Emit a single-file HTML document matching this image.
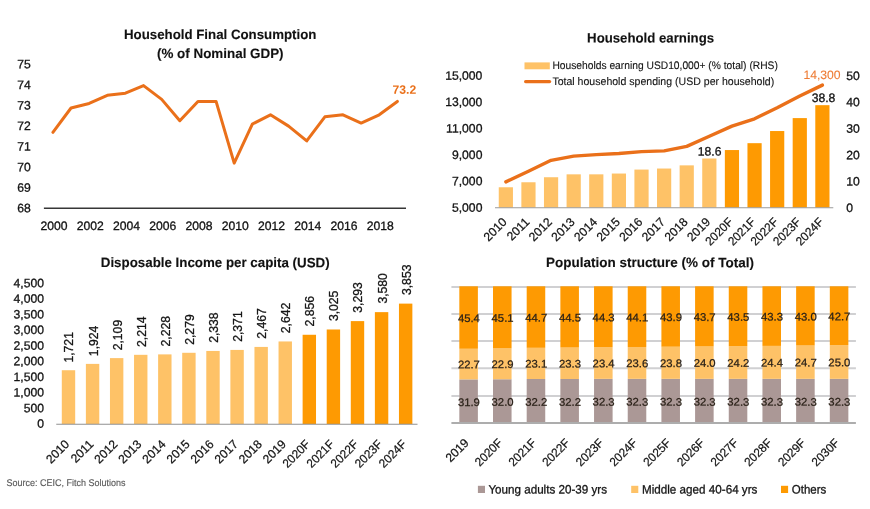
<!DOCTYPE html>
<html lang="en">
<head>
<meta charset="utf-8">
<title>Household consumption, earnings, income and population structure</title>
<style>
html, body { margin: 0; padding: 0; background: #ffffff; }
body { width: 870px; height: 509px; overflow: hidden; }
svg { display: block; font-family: "Liberation Sans", sans-serif; }
</style>
</head>
<body>
<svg width="870" height="509" viewBox="0 0 870 509">
<rect width="870" height="509" fill="#ffffff"/>
<g id="c1">
<text x="220.20" y="39.00" font-size="13.58" text-anchor="middle" font-weight="bold" transform="rotate(0.03 220.20 39.00)" textLength="192.40" lengthAdjust="spacingAndGlyphs" fill="#111" stroke="#111" stroke-width="0.12">Household Final Consumption</text>
<text x="220.30" y="58.00" font-size="13.58" text-anchor="middle" font-weight="bold" transform="rotate(0.03 220.30 58.00)" textLength="126.60" lengthAdjust="spacingAndGlyphs" fill="#111" stroke="#111" stroke-width="0.12">(% of Nominal GDP)</text>
<text x="30.70" y="212.35" font-size="12.16" text-anchor="end" transform="rotate(0.03 30.70 212.35)" fill="#141414" stroke="#141414" stroke-width="0.3">68</text>
<text x="30.70" y="191.78" font-size="12.16" text-anchor="end" transform="rotate(0.03 30.70 191.78)" fill="#141414" stroke="#141414" stroke-width="0.3">69</text>
<text x="30.70" y="171.21" font-size="12.16" text-anchor="end" transform="rotate(0.03 30.70 171.21)" fill="#141414" stroke="#141414" stroke-width="0.3">70</text>
<text x="30.70" y="150.64" font-size="12.16" text-anchor="end" transform="rotate(0.03 30.70 150.64)" fill="#141414" stroke="#141414" stroke-width="0.3">71</text>
<text x="30.70" y="130.07" font-size="12.16" text-anchor="end" transform="rotate(0.03 30.70 130.07)" fill="#141414" stroke="#141414" stroke-width="0.3">72</text>
<text x="30.70" y="109.50" font-size="12.16" text-anchor="end" transform="rotate(0.03 30.70 109.50)" fill="#141414" stroke="#141414" stroke-width="0.3">73</text>
<text x="30.70" y="88.92" font-size="12.16" text-anchor="end" transform="rotate(0.03 30.70 88.92)" fill="#141414" stroke="#141414" stroke-width="0.3">74</text>
<text x="30.70" y="68.35" font-size="12.16" text-anchor="end" transform="rotate(0.03 30.70 68.35)" fill="#141414" stroke="#141414" stroke-width="0.3">75</text>
<line x1="43.90" y1="208.30" x2="406.00" y2="208.30" stroke="#363636" stroke-width="1.4"/>
<text x="54.00" y="229.90" font-size="12.16" text-anchor="middle" transform="rotate(0.03 54.00 229.90)" fill="#141414" stroke="#141414" stroke-width="0.3">2000</text>
<text x="90.26" y="229.90" font-size="12.16" text-anchor="middle" transform="rotate(0.03 90.26 229.90)" fill="#141414" stroke="#141414" stroke-width="0.3">2002</text>
<text x="126.52" y="229.90" font-size="12.16" text-anchor="middle" transform="rotate(0.03 126.52 229.90)" fill="#141414" stroke="#141414" stroke-width="0.3">2004</text>
<text x="162.78" y="229.90" font-size="12.16" text-anchor="middle" transform="rotate(0.03 162.78 229.90)" fill="#141414" stroke="#141414" stroke-width="0.3">2006</text>
<text x="199.04" y="229.90" font-size="12.16" text-anchor="middle" transform="rotate(0.03 199.04 229.90)" fill="#141414" stroke="#141414" stroke-width="0.3">2008</text>
<text x="235.30" y="229.90" font-size="12.16" text-anchor="middle" transform="rotate(0.03 235.30 229.90)" fill="#141414" stroke="#141414" stroke-width="0.3">2010</text>
<text x="271.56" y="229.90" font-size="12.16" text-anchor="middle" transform="rotate(0.03 271.56 229.90)" fill="#141414" stroke="#141414" stroke-width="0.3">2012</text>
<text x="307.82" y="229.90" font-size="12.16" text-anchor="middle" transform="rotate(0.03 307.82 229.90)" fill="#141414" stroke="#141414" stroke-width="0.3">2014</text>
<text x="344.08" y="229.90" font-size="12.16" text-anchor="middle" transform="rotate(0.03 344.08 229.90)" fill="#141414" stroke="#141414" stroke-width="0.3">2016</text>
<text x="380.34" y="229.90" font-size="12.16" text-anchor="middle" transform="rotate(0.03 380.34 229.90)" fill="#141414" stroke="#141414" stroke-width="0.3">2018</text>
<polyline points="52.90,132.29 71.03,108.01 89.16,103.49 107.29,95.26 125.42,93.20 143.55,85.59 161.68,99.37 179.81,120.77 197.94,101.43 216.07,101.43 234.20,163.14 252.33,124.06 270.46,114.80 288.59,126.11 306.72,140.93 324.85,116.86 342.98,114.80 361.11,123.03 379.24,114.80 397.37,101.43" fill="none" stroke="#EA701A" stroke-width="3.0" stroke-linejoin="round" stroke-linecap="round"/>
<text x="404.40" y="93.75" font-size="12.16" text-anchor="middle" font-weight="bold" transform="rotate(0.03 404.40 93.75)" fill="#EA701A" stroke="#EA701A" stroke-width="0">73.2</text>
</g>
<g id="c2">
<text x="650.60" y="42.60" font-size="13.58" text-anchor="middle" font-weight="bold" transform="rotate(0.03 650.60 42.60)" textLength="127.00" lengthAdjust="spacingAndGlyphs" fill="#111" stroke="#111" stroke-width="0.12">Household earnings</text>
<rect x="524.50" y="62.40" width="25.30" height="6.90" fill="#FEC267"/>
<text x="552.40" y="68.92" font-size="10.94" transform="rotate(0.03 552.40 68.92)" textLength="225.50" lengthAdjust="spacingAndGlyphs" fill="#141414" stroke="#141414" stroke-width="0.12">Households earning USD10,000+ (% total) (RHS)</text>
<polyline points="525.60,81.60 549.60,81.60" fill="none" stroke="#EA701A" stroke-width="3.2" stroke-linejoin="round" stroke-linecap="round"/>
<text x="552.40" y="85.02" font-size="10.94" transform="rotate(0.03 552.40 85.02)" textLength="221.80" lengthAdjust="spacingAndGlyphs" fill="#141414" stroke="#141414" stroke-width="0.12">Total household spending (USD per household)</text>
<text x="482.40" y="211.75" font-size="12.16" text-anchor="end" transform="rotate(0.03 482.40 211.75)" fill="#141414" stroke="#141414" stroke-width="0.3">5,000</text>
<text x="482.40" y="185.35" font-size="12.16" text-anchor="end" transform="rotate(0.03 482.40 185.35)" fill="#141414" stroke="#141414" stroke-width="0.3">7,000</text>
<text x="482.40" y="158.95" font-size="12.16" text-anchor="end" transform="rotate(0.03 482.40 158.95)" fill="#141414" stroke="#141414" stroke-width="0.3">9,000</text>
<text x="482.40" y="132.55" font-size="12.16" text-anchor="end" transform="rotate(0.03 482.40 132.55)" fill="#141414" stroke="#141414" stroke-width="0.3">11,000</text>
<text x="482.40" y="106.15" font-size="12.16" text-anchor="end" transform="rotate(0.03 482.40 106.15)" fill="#141414" stroke="#141414" stroke-width="0.3">13,000</text>
<text x="482.40" y="79.75" font-size="12.16" text-anchor="end" transform="rotate(0.03 482.40 79.75)" fill="#141414" stroke="#141414" stroke-width="0.3">15,000</text>
<text x="846.30" y="211.95" font-size="12.16" transform="rotate(0.03 846.30 211.95)" fill="#141414" stroke="#141414" stroke-width="0.3">0</text>
<text x="846.30" y="185.55" font-size="12.16" transform="rotate(0.03 846.30 185.55)" fill="#141414" stroke="#141414" stroke-width="0.3">10</text>
<text x="846.30" y="159.15" font-size="12.16" transform="rotate(0.03 846.30 159.15)" fill="#141414" stroke="#141414" stroke-width="0.3">20</text>
<text x="846.30" y="132.75" font-size="12.16" transform="rotate(0.03 846.30 132.75)" fill="#141414" stroke="#141414" stroke-width="0.3">30</text>
<text x="846.30" y="106.35" font-size="12.16" transform="rotate(0.03 846.30 106.35)" fill="#141414" stroke="#141414" stroke-width="0.3">40</text>
<text x="846.30" y="79.95" font-size="12.16" transform="rotate(0.03 846.30 79.95)" fill="#141414" stroke="#141414" stroke-width="0.3">50</text>
<rect x="498.75" y="187.27" width="14.20" height="20.33" fill="#FEC267"/>
<rect x="521.36" y="182.26" width="14.20" height="25.34" fill="#FEC267"/>
<rect x="543.97" y="177.24" width="14.20" height="30.36" fill="#FEC267"/>
<rect x="566.58" y="174.34" width="14.20" height="33.26" fill="#FEC267"/>
<rect x="589.19" y="174.34" width="14.20" height="33.26" fill="#FEC267"/>
<rect x="611.80" y="173.54" width="14.20" height="34.06" fill="#FEC267"/>
<rect x="634.41" y="169.58" width="14.20" height="38.02" fill="#FEC267"/>
<rect x="657.02" y="168.53" width="14.20" height="39.07" fill="#FEC267"/>
<rect x="679.63" y="165.36" width="14.20" height="42.24" fill="#FEC267"/>
<rect x="702.24" y="158.50" width="14.20" height="49.10" fill="#FEC267"/>
<rect x="724.85" y="150.05" width="14.20" height="57.55" fill="#FE9A02"/>
<rect x="747.46" y="143.18" width="14.20" height="64.42" fill="#FE9A02"/>
<rect x="770.07" y="131.04" width="14.20" height="76.56" fill="#FE9A02"/>
<rect x="792.68" y="118.10" width="14.20" height="89.50" fill="#FE9A02"/>
<rect x="815.29" y="105.17" width="14.20" height="102.43" fill="#FE9A02"/>
<line x1="495.00" y1="207.80" x2="833.30" y2="207.80" stroke="#9a9a9a" stroke-width="1.1"/>
<polyline points="505.85,181.86 528.46,171.30 551.07,160.34 573.68,156.12 596.29,154.67 618.90,153.48 641.51,151.63 664.12,150.84 686.73,146.35 709.34,136.32 731.95,126.16 754.56,118.76 777.17,107.81 799.78,96.06 822.39,85.10" fill="none" stroke="#EA701A" stroke-width="3.4" stroke-linejoin="round" stroke-linecap="round"/>
<text x="507.65" y="222.80" font-size="12.16" text-anchor="end" transform="rotate(-45 507.65 222.80)" fill="#141414" stroke="#141414" stroke-width="0.22">2010</text>
<text x="530.26" y="222.80" font-size="12.16" text-anchor="end" transform="rotate(-45 530.26 222.80)" fill="#141414" stroke="#141414" stroke-width="0.22">2011</text>
<text x="552.87" y="222.80" font-size="12.16" text-anchor="end" transform="rotate(-45 552.87 222.80)" fill="#141414" stroke="#141414" stroke-width="0.22">2012</text>
<text x="575.48" y="222.80" font-size="12.16" text-anchor="end" transform="rotate(-45 575.48 222.80)" fill="#141414" stroke="#141414" stroke-width="0.22">2013</text>
<text x="598.09" y="222.80" font-size="12.16" text-anchor="end" transform="rotate(-45 598.09 222.80)" fill="#141414" stroke="#141414" stroke-width="0.22">2014</text>
<text x="620.70" y="222.80" font-size="12.16" text-anchor="end" transform="rotate(-45 620.70 222.80)" fill="#141414" stroke="#141414" stroke-width="0.22">2015</text>
<text x="643.31" y="222.80" font-size="12.16" text-anchor="end" transform="rotate(-45 643.31 222.80)" fill="#141414" stroke="#141414" stroke-width="0.22">2016</text>
<text x="665.92" y="222.80" font-size="12.16" text-anchor="end" transform="rotate(-45 665.92 222.80)" fill="#141414" stroke="#141414" stroke-width="0.22">2017</text>
<text x="688.53" y="222.80" font-size="12.16" text-anchor="end" transform="rotate(-45 688.53 222.80)" fill="#141414" stroke="#141414" stroke-width="0.22">2018</text>
<text x="711.14" y="222.80" font-size="12.16" text-anchor="end" transform="rotate(-45 711.14 222.80)" fill="#141414" stroke="#141414" stroke-width="0.22">2019</text>
<text x="733.75" y="222.80" font-size="12.16" text-anchor="end" transform="rotate(-45 733.75 222.80)" textLength="33.20" lengthAdjust="spacingAndGlyphs" fill="#141414" stroke="#141414" stroke-width="0.22">2020F</text>
<text x="756.36" y="222.80" font-size="12.16" text-anchor="end" transform="rotate(-45 756.36 222.80)" textLength="33.20" lengthAdjust="spacingAndGlyphs" fill="#141414" stroke="#141414" stroke-width="0.22">2021F</text>
<text x="778.97" y="222.80" font-size="12.16" text-anchor="end" transform="rotate(-45 778.97 222.80)" textLength="33.20" lengthAdjust="spacingAndGlyphs" fill="#141414" stroke="#141414" stroke-width="0.22">2022F</text>
<text x="801.58" y="222.80" font-size="12.16" text-anchor="end" transform="rotate(-45 801.58 222.80)" textLength="33.20" lengthAdjust="spacingAndGlyphs" fill="#141414" stroke="#141414" stroke-width="0.22">2023F</text>
<text x="824.19" y="222.80" font-size="12.16" text-anchor="end" transform="rotate(-45 824.19 222.80)" textLength="33.20" lengthAdjust="spacingAndGlyphs" fill="#141414" stroke="#141414" stroke-width="0.22">2024F</text>
<text x="822.00" y="79.05" font-size="12.16" text-anchor="middle" transform="rotate(0.03 822.00 79.05)" fill="#EE7D36" stroke="#EE7D36" stroke-width="0.1">14,300</text>
<text x="823.50" y="101.95" font-size="12.16" text-anchor="middle" transform="rotate(0.03 823.50 101.95)" fill="#141414" stroke="#141414" stroke-width="0.3">38.8</text>
<text x="709.60" y="155.55" font-size="12.16" text-anchor="middle" transform="rotate(0.03 709.60 155.55)" fill="#141414" stroke="#141414" stroke-width="0.3">18.6</text>
</g>
<g id="c3">
<text x="215.20" y="267.10" font-size="13.58" text-anchor="middle" font-weight="bold" transform="rotate(0.03 215.20 267.10)" textLength="228.80" lengthAdjust="spacingAndGlyphs" fill="#111" stroke="#111" stroke-width="0.12">Disposable Income per capita (USD)</text>
<text x="44.00" y="427.85" font-size="12.16" text-anchor="end" transform="rotate(0.03 44.00 427.85)" fill="#141414" stroke="#141414" stroke-width="0.3">0</text>
<text x="44.00" y="412.23" font-size="12.16" text-anchor="end" transform="rotate(0.03 44.00 412.23)" fill="#141414" stroke="#141414" stroke-width="0.3">500</text>
<text x="44.00" y="396.61" font-size="12.16" text-anchor="end" transform="rotate(0.03 44.00 396.61)" fill="#141414" stroke="#141414" stroke-width="0.3">1,000</text>
<text x="44.00" y="380.99" font-size="12.16" text-anchor="end" transform="rotate(0.03 44.00 380.99)" fill="#141414" stroke="#141414" stroke-width="0.3">1,500</text>
<text x="44.00" y="365.36" font-size="12.16" text-anchor="end" transform="rotate(0.03 44.00 365.36)" fill="#141414" stroke="#141414" stroke-width="0.3">2,000</text>
<text x="44.00" y="349.74" font-size="12.16" text-anchor="end" transform="rotate(0.03 44.00 349.74)" fill="#141414" stroke="#141414" stroke-width="0.3">2,500</text>
<text x="44.00" y="334.12" font-size="12.16" text-anchor="end" transform="rotate(0.03 44.00 334.12)" fill="#141414" stroke="#141414" stroke-width="0.3">3,000</text>
<text x="44.00" y="318.50" font-size="12.16" text-anchor="end" transform="rotate(0.03 44.00 318.50)" fill="#141414" stroke="#141414" stroke-width="0.3">3,500</text>
<text x="44.00" y="302.87" font-size="12.16" text-anchor="end" transform="rotate(0.03 44.00 302.87)" fill="#141414" stroke="#141414" stroke-width="0.3">4,000</text>
<text x="44.00" y="287.25" font-size="12.16" text-anchor="end" transform="rotate(0.03 44.00 287.25)" fill="#141414" stroke="#141414" stroke-width="0.3">4,500</text>
<rect x="61.79" y="370.23" width="13.40" height="53.77" fill="#FEC267"/>
<text x="73.44" y="362.53" font-size="12.16" transform="rotate(-90 73.44 362.53)" fill="#141414" stroke="#141414" stroke-width="0.3">1,721</text>
<text x="70.09" y="445.00" font-size="12.16" text-anchor="end" transform="rotate(-45 70.09 445.00)" fill="#141414" stroke="#141414" stroke-width="0.22">2010</text>
<rect x="85.88" y="363.89" width="13.40" height="60.11" fill="#FEC267"/>
<text x="97.53" y="356.12" font-size="12.16" transform="rotate(-90 97.53 356.12)" fill="#141414" stroke="#141414" stroke-width="0.3">1,924</text>
<text x="94.17" y="445.00" font-size="12.16" text-anchor="end" transform="rotate(-45 94.17 445.00)" fill="#141414" stroke="#141414" stroke-width="0.22">2011</text>
<rect x="109.96" y="358.11" width="13.40" height="65.89" fill="#FEC267"/>
<text x="121.61" y="350.28" font-size="12.16" transform="rotate(-90 121.61 350.28)" fill="#141414" stroke="#141414" stroke-width="0.3">2,109</text>
<text x="118.26" y="445.00" font-size="12.16" text-anchor="end" transform="rotate(-45 118.26 445.00)" fill="#141414" stroke="#141414" stroke-width="0.22">2012</text>
<rect x="134.04" y="354.82" width="13.40" height="69.18" fill="#FEC267"/>
<text x="145.69" y="346.93" font-size="12.16" transform="rotate(-90 145.69 346.93)" fill="#141414" stroke="#141414" stroke-width="0.3">2,214</text>
<text x="142.34" y="445.00" font-size="12.16" text-anchor="end" transform="rotate(-45 142.34 445.00)" fill="#141414" stroke="#141414" stroke-width="0.22">2013</text>
<rect x="158.12" y="354.39" width="13.40" height="69.61" fill="#FEC267"/>
<text x="169.78" y="346.43" font-size="12.16" transform="rotate(-90 169.78 346.43)" fill="#141414" stroke="#141414" stroke-width="0.3">2,228</text>
<text x="166.42" y="445.00" font-size="12.16" text-anchor="end" transform="rotate(-45 166.42 445.00)" fill="#141414" stroke="#141414" stroke-width="0.22">2014</text>
<rect x="182.21" y="352.79" width="13.40" height="71.21" fill="#FEC267"/>
<text x="193.86" y="344.77" font-size="12.16" transform="rotate(-90 193.86 344.77)" fill="#141414" stroke="#141414" stroke-width="0.3">2,279</text>
<text x="190.51" y="445.00" font-size="12.16" text-anchor="end" transform="rotate(-45 190.51 445.00)" fill="#141414" stroke="#141414" stroke-width="0.22">2015</text>
<rect x="206.29" y="350.95" width="13.40" height="73.05" fill="#FEC267"/>
<text x="217.94" y="342.86" font-size="12.16" transform="rotate(-90 217.94 342.86)" fill="#141414" stroke="#141414" stroke-width="0.3">2,338</text>
<text x="214.59" y="445.00" font-size="12.16" text-anchor="end" transform="rotate(-45 214.59 445.00)" fill="#141414" stroke="#141414" stroke-width="0.22">2016</text>
<rect x="230.38" y="349.92" width="13.40" height="74.08" fill="#FEC267"/>
<text x="242.03" y="341.77" font-size="12.16" transform="rotate(-90 242.03 341.77)" fill="#141414" stroke="#141414" stroke-width="0.3">2,371</text>
<text x="238.67" y="445.00" font-size="12.16" text-anchor="end" transform="rotate(-45 238.67 445.00)" fill="#141414" stroke="#141414" stroke-width="0.22">2017</text>
<rect x="254.46" y="346.92" width="13.40" height="77.08" fill="#FEC267"/>
<text x="266.11" y="338.71" font-size="12.16" transform="rotate(-90 266.11 338.71)" fill="#141414" stroke="#141414" stroke-width="0.3">2,467</text>
<text x="262.76" y="445.00" font-size="12.16" text-anchor="end" transform="rotate(-45 262.76 445.00)" fill="#141414" stroke="#141414" stroke-width="0.22">2018</text>
<rect x="278.54" y="341.45" width="13.40" height="82.55" fill="#FEC267"/>
<text x="290.19" y="333.17" font-size="12.16" transform="rotate(-90 290.19 333.17)" fill="#141414" stroke="#141414" stroke-width="0.3">2,642</text>
<text x="286.84" y="445.00" font-size="12.16" text-anchor="end" transform="rotate(-45 286.84 445.00)" fill="#141414" stroke="#141414" stroke-width="0.22">2019</text>
<rect x="302.62" y="334.77" width="13.40" height="89.23" fill="#FE9A02"/>
<text x="314.28" y="326.42" font-size="12.16" transform="rotate(-90 314.28 326.42)" fill="#141414" stroke="#141414" stroke-width="0.3">2,856</text>
<text x="310.93" y="445.00" font-size="12.16" text-anchor="end" transform="rotate(-45 310.93 445.00)" textLength="33.20" lengthAdjust="spacingAndGlyphs" fill="#141414" stroke="#141414" stroke-width="0.22">2020F</text>
<rect x="326.71" y="329.49" width="13.40" height="94.51" fill="#FE9A02"/>
<text x="338.36" y="321.08" font-size="12.16" transform="rotate(-90 338.36 321.08)" fill="#141414" stroke="#141414" stroke-width="0.3">3,025</text>
<text x="335.01" y="445.00" font-size="12.16" text-anchor="end" transform="rotate(-45 335.01 445.00)" textLength="33.20" lengthAdjust="spacingAndGlyphs" fill="#141414" stroke="#141414" stroke-width="0.22">2021F</text>
<rect x="350.79" y="321.11" width="13.40" height="102.89" fill="#FE9A02"/>
<text x="362.44" y="312.64" font-size="12.16" transform="rotate(-90 362.44 312.64)" fill="#141414" stroke="#141414" stroke-width="0.3">3,293</text>
<text x="359.09" y="445.00" font-size="12.16" text-anchor="end" transform="rotate(-45 359.09 445.00)" textLength="33.20" lengthAdjust="spacingAndGlyphs" fill="#141414" stroke="#141414" stroke-width="0.22">2022F</text>
<rect x="374.88" y="312.14" width="13.40" height="111.86" fill="#FE9A02"/>
<text x="386.53" y="303.61" font-size="12.16" transform="rotate(-90 386.53 303.61)" fill="#141414" stroke="#141414" stroke-width="0.3">3,580</text>
<text x="383.18" y="445.00" font-size="12.16" text-anchor="end" transform="rotate(-45 383.18 445.00)" textLength="33.20" lengthAdjust="spacingAndGlyphs" fill="#141414" stroke="#141414" stroke-width="0.22">2023F</text>
<rect x="398.96" y="303.62" width="13.40" height="120.38" fill="#FE9A02"/>
<text x="410.61" y="295.02" font-size="12.16" transform="rotate(-90 410.61 295.02)" fill="#141414" stroke="#141414" stroke-width="0.3">3,853</text>
<text x="407.26" y="445.00" font-size="12.16" text-anchor="end" transform="rotate(-45 407.26 445.00)" textLength="33.20" lengthAdjust="spacingAndGlyphs" fill="#141414" stroke="#141414" stroke-width="0.22">2024F</text>
<line x1="56.25" y1="424.20" x2="417.50" y2="424.20" stroke="#909090" stroke-width="1.1"/>
<text x="6.60" y="486.28" font-size="9.73" transform="rotate(0.03 6.60 486.28)" textLength="118.80" lengthAdjust="spacingAndGlyphs" fill="#5c5c5c" stroke="#5c5c5c" stroke-width="0.15">Source: CEIC, Fitch Solutions</text>
</g>
<g id="c4">
<text x="650.00" y="267.10" font-size="13.58" text-anchor="middle" font-weight="bold" transform="rotate(0.03 650.00 267.10)" textLength="207.80" lengthAdjust="spacingAndGlyphs" fill="#111" stroke="#111" stroke-width="0.12">Population structure (% of Total)</text>
<line x1="451.40" y1="396.00" x2="855.90" y2="396.00" stroke="#D0D0D2" stroke-width="1.9"/>
<line x1="451.40" y1="368.20" x2="855.90" y2="368.20" stroke="#D0D0D2" stroke-width="1.9"/>
<line x1="451.40" y1="341.00" x2="855.90" y2="341.00" stroke="#D0D0D2" stroke-width="1.9"/>
<line x1="451.40" y1="314.00" x2="855.90" y2="314.00" stroke="#D0D0D2" stroke-width="1.9"/>
<line x1="451.40" y1="287.00" x2="855.90" y2="287.00" stroke="#D0D0D2" stroke-width="1.9"/>
<rect x="459.33" y="379.39" width="18.55" height="43.61" fill="#AB9896"/>
<rect x="459.33" y="348.76" width="18.55" height="30.63" fill="#FEC267"/>
<rect x="459.33" y="286.30" width="18.55" height="62.46" fill="#FE9A02"/>
<rect x="493.01" y="379.26" width="18.55" height="43.74" fill="#AB9896"/>
<rect x="493.01" y="348.35" width="18.55" height="30.90" fill="#FEC267"/>
<rect x="493.01" y="286.30" width="18.55" height="62.05" fill="#FE9A02"/>
<rect x="526.69" y="378.98" width="18.55" height="44.02" fill="#AB9896"/>
<rect x="526.69" y="347.80" width="18.55" height="31.18" fill="#FEC267"/>
<rect x="526.69" y="286.30" width="18.55" height="61.50" fill="#FE9A02"/>
<rect x="560.37" y="378.98" width="18.55" height="44.02" fill="#AB9896"/>
<rect x="560.37" y="347.53" width="18.55" height="31.45" fill="#FEC267"/>
<rect x="560.37" y="286.30" width="18.55" height="61.23" fill="#FE9A02"/>
<rect x="594.05" y="378.85" width="18.55" height="44.15" fill="#AB9896"/>
<rect x="594.05" y="347.26" width="18.55" height="31.59" fill="#FEC267"/>
<rect x="594.05" y="286.30" width="18.55" height="60.96" fill="#FE9A02"/>
<rect x="627.73" y="378.85" width="18.55" height="44.15" fill="#AB9896"/>
<rect x="627.73" y="346.98" width="18.55" height="31.86" fill="#FEC267"/>
<rect x="627.73" y="286.30" width="18.55" height="60.68" fill="#FE9A02"/>
<rect x="661.41" y="378.85" width="18.55" height="44.15" fill="#AB9896"/>
<rect x="661.41" y="346.71" width="18.55" height="32.13" fill="#FEC267"/>
<rect x="661.41" y="286.30" width="18.55" height="60.41" fill="#FE9A02"/>
<rect x="695.09" y="378.85" width="18.55" height="44.15" fill="#AB9896"/>
<rect x="695.09" y="346.44" width="18.55" height="32.41" fill="#FEC267"/>
<rect x="695.09" y="286.30" width="18.55" height="60.14" fill="#FE9A02"/>
<rect x="728.76" y="378.85" width="18.55" height="44.15" fill="#AB9896"/>
<rect x="728.76" y="346.16" width="18.55" height="32.68" fill="#FEC267"/>
<rect x="728.76" y="286.30" width="18.55" height="59.86" fill="#FE9A02"/>
<rect x="762.45" y="378.85" width="18.55" height="44.15" fill="#AB9896"/>
<rect x="762.45" y="345.89" width="18.55" height="32.95" fill="#FEC267"/>
<rect x="762.45" y="286.30" width="18.55" height="59.59" fill="#FE9A02"/>
<rect x="796.13" y="378.85" width="18.55" height="44.15" fill="#AB9896"/>
<rect x="796.13" y="345.48" width="18.55" height="33.36" fill="#FEC267"/>
<rect x="796.13" y="286.30" width="18.55" height="59.18" fill="#FE9A02"/>
<rect x="829.81" y="378.85" width="18.55" height="44.15" fill="#AB9896"/>
<rect x="829.81" y="345.07" width="18.55" height="33.77" fill="#FEC267"/>
<rect x="829.81" y="286.30" width="18.55" height="58.77" fill="#FE9A02"/>
<line x1="451.40" y1="423.00" x2="855.90" y2="423.00" stroke="#ADADAD" stroke-width="1.8"/>
<text x="468.90" y="405.91" font-size="10.94" text-anchor="middle" transform="rotate(0.03 468.90 405.91)" textLength="22.00" lengthAdjust="spacingAndGlyphs" fill="#2a2118" stroke="#2a2118" stroke-width="0.25">31.9</text>
<text x="468.90" y="368.30" font-size="10.94" text-anchor="middle" transform="rotate(0.03 468.90 368.30)" textLength="22.00" lengthAdjust="spacingAndGlyphs" fill="#2a2118" stroke="#2a2118" stroke-width="0.25">22.7</text>
<text x="468.90" y="322.05" font-size="10.94" text-anchor="middle" transform="rotate(0.03 468.90 322.05)" textLength="22.00" lengthAdjust="spacingAndGlyphs" fill="#2a2118" stroke="#2a2118" stroke-width="0.25">45.4</text>
<text x="469.60" y="443.60" font-size="12.16" text-anchor="end" transform="rotate(-45 469.60 443.60)" fill="#141414" stroke="#141414" stroke-width="0.22">2019</text>
<text x="502.58" y="405.85" font-size="10.94" text-anchor="middle" transform="rotate(0.03 502.58 405.85)" textLength="22.00" lengthAdjust="spacingAndGlyphs" fill="#2a2118" stroke="#2a2118" stroke-width="0.25">32.0</text>
<text x="502.58" y="368.02" font-size="10.94" text-anchor="middle" transform="rotate(0.03 502.58 368.02)" textLength="22.00" lengthAdjust="spacingAndGlyphs" fill="#2a2118" stroke="#2a2118" stroke-width="0.25">22.9</text>
<text x="502.58" y="321.84" font-size="10.94" text-anchor="middle" transform="rotate(0.03 502.58 321.84)" textLength="22.00" lengthAdjust="spacingAndGlyphs" fill="#2a2118" stroke="#2a2118" stroke-width="0.25">45.1</text>
<text x="503.28" y="443.60" font-size="12.16" text-anchor="end" transform="rotate(-45 503.28 443.60)" textLength="33.20" lengthAdjust="spacingAndGlyphs" fill="#141414" stroke="#141414" stroke-width="0.22">2020F</text>
<text x="536.26" y="405.71" font-size="10.94" text-anchor="middle" transform="rotate(0.03 536.26 405.71)" textLength="22.00" lengthAdjust="spacingAndGlyphs" fill="#2a2118" stroke="#2a2118" stroke-width="0.25">32.2</text>
<text x="536.26" y="367.61" font-size="10.94" text-anchor="middle" transform="rotate(0.03 536.26 367.61)" textLength="22.00" lengthAdjust="spacingAndGlyphs" fill="#2a2118" stroke="#2a2118" stroke-width="0.25">23.1</text>
<text x="536.26" y="321.57" font-size="10.94" text-anchor="middle" transform="rotate(0.03 536.26 321.57)" textLength="22.00" lengthAdjust="spacingAndGlyphs" fill="#2a2118" stroke="#2a2118" stroke-width="0.25">44.7</text>
<text x="536.96" y="443.60" font-size="12.16" text-anchor="end" transform="rotate(-45 536.96 443.60)" textLength="33.20" lengthAdjust="spacingAndGlyphs" fill="#141414" stroke="#141414" stroke-width="0.22">2021F</text>
<text x="569.94" y="405.71" font-size="10.94" text-anchor="middle" transform="rotate(0.03 569.94 405.71)" textLength="22.00" lengthAdjust="spacingAndGlyphs" fill="#2a2118" stroke="#2a2118" stroke-width="0.25">32.2</text>
<text x="569.94" y="367.48" font-size="10.94" text-anchor="middle" transform="rotate(0.03 569.94 367.48)" textLength="22.00" lengthAdjust="spacingAndGlyphs" fill="#2a2118" stroke="#2a2118" stroke-width="0.25">23.3</text>
<text x="569.94" y="321.43" font-size="10.94" text-anchor="middle" transform="rotate(0.03 569.94 321.43)" textLength="22.00" lengthAdjust="spacingAndGlyphs" fill="#2a2118" stroke="#2a2118" stroke-width="0.25">44.5</text>
<text x="570.64" y="443.60" font-size="12.16" text-anchor="end" transform="rotate(-45 570.64 443.60)" textLength="33.20" lengthAdjust="spacingAndGlyphs" fill="#141414" stroke="#141414" stroke-width="0.22">2022F</text>
<text x="603.62" y="405.64" font-size="10.94" text-anchor="middle" transform="rotate(0.03 603.62 405.64)" textLength="22.00" lengthAdjust="spacingAndGlyphs" fill="#2a2118" stroke="#2a2118" stroke-width="0.25">32.3</text>
<text x="603.62" y="367.27" font-size="10.94" text-anchor="middle" transform="rotate(0.03 603.62 367.27)" textLength="22.00" lengthAdjust="spacingAndGlyphs" fill="#2a2118" stroke="#2a2118" stroke-width="0.25">23.4</text>
<text x="603.62" y="321.30" font-size="10.94" text-anchor="middle" transform="rotate(0.03 603.62 321.30)" textLength="22.00" lengthAdjust="spacingAndGlyphs" fill="#2a2118" stroke="#2a2118" stroke-width="0.25">44.3</text>
<text x="604.32" y="443.60" font-size="12.16" text-anchor="end" transform="rotate(-45 604.32 443.60)" textLength="33.20" lengthAdjust="spacingAndGlyphs" fill="#141414" stroke="#141414" stroke-width="0.22">2023F</text>
<text x="637.30" y="405.64" font-size="10.94" text-anchor="middle" transform="rotate(0.03 637.30 405.64)" textLength="22.00" lengthAdjust="spacingAndGlyphs" fill="#2a2118" stroke="#2a2118" stroke-width="0.25">32.3</text>
<text x="637.30" y="367.13" font-size="10.94" text-anchor="middle" transform="rotate(0.03 637.30 367.13)" textLength="22.00" lengthAdjust="spacingAndGlyphs" fill="#2a2118" stroke="#2a2118" stroke-width="0.25">23.6</text>
<text x="637.30" y="321.16" font-size="10.94" text-anchor="middle" transform="rotate(0.03 637.30 321.16)" textLength="22.00" lengthAdjust="spacingAndGlyphs" fill="#2a2118" stroke="#2a2118" stroke-width="0.25">44.1</text>
<text x="638.00" y="443.60" font-size="12.16" text-anchor="end" transform="rotate(-45 638.00 443.60)" textLength="33.20" lengthAdjust="spacingAndGlyphs" fill="#141414" stroke="#141414" stroke-width="0.22">2024F</text>
<text x="670.98" y="405.64" font-size="10.94" text-anchor="middle" transform="rotate(0.03 670.98 405.64)" textLength="22.00" lengthAdjust="spacingAndGlyphs" fill="#2a2118" stroke="#2a2118" stroke-width="0.25">32.3</text>
<text x="670.98" y="367.00" font-size="10.94" text-anchor="middle" transform="rotate(0.03 670.98 367.00)" textLength="22.00" lengthAdjust="spacingAndGlyphs" fill="#2a2118" stroke="#2a2118" stroke-width="0.25">23.8</text>
<text x="670.98" y="321.02" font-size="10.94" text-anchor="middle" transform="rotate(0.03 670.98 321.02)" textLength="22.00" lengthAdjust="spacingAndGlyphs" fill="#2a2118" stroke="#2a2118" stroke-width="0.25">43.9</text>
<text x="671.68" y="443.60" font-size="12.16" text-anchor="end" transform="rotate(-45 671.68 443.60)" textLength="33.20" lengthAdjust="spacingAndGlyphs" fill="#141414" stroke="#141414" stroke-width="0.22">2025F</text>
<text x="704.66" y="405.64" font-size="10.94" text-anchor="middle" transform="rotate(0.03 704.66 405.64)" textLength="22.00" lengthAdjust="spacingAndGlyphs" fill="#2a2118" stroke="#2a2118" stroke-width="0.25">32.3</text>
<text x="704.66" y="366.86" font-size="10.94" text-anchor="middle" transform="rotate(0.03 704.66 366.86)" textLength="22.00" lengthAdjust="spacingAndGlyphs" fill="#2a2118" stroke="#2a2118" stroke-width="0.25">24.0</text>
<text x="704.66" y="320.89" font-size="10.94" text-anchor="middle" transform="rotate(0.03 704.66 320.89)" textLength="22.00" lengthAdjust="spacingAndGlyphs" fill="#2a2118" stroke="#2a2118" stroke-width="0.25">43.7</text>
<text x="705.36" y="443.60" font-size="12.16" text-anchor="end" transform="rotate(-45 705.36 443.60)" textLength="33.20" lengthAdjust="spacingAndGlyphs" fill="#141414" stroke="#141414" stroke-width="0.22">2026F</text>
<text x="738.34" y="405.64" font-size="10.94" text-anchor="middle" transform="rotate(0.03 738.34 405.64)" textLength="22.00" lengthAdjust="spacingAndGlyphs" fill="#2a2118" stroke="#2a2118" stroke-width="0.25">32.3</text>
<text x="738.34" y="366.72" font-size="10.94" text-anchor="middle" transform="rotate(0.03 738.34 366.72)" textLength="22.00" lengthAdjust="spacingAndGlyphs" fill="#2a2118" stroke="#2a2118" stroke-width="0.25">24.2</text>
<text x="738.34" y="320.75" font-size="10.94" text-anchor="middle" transform="rotate(0.03 738.34 320.75)" textLength="22.00" lengthAdjust="spacingAndGlyphs" fill="#2a2118" stroke="#2a2118" stroke-width="0.25">43.5</text>
<text x="739.04" y="443.60" font-size="12.16" text-anchor="end" transform="rotate(-45 739.04 443.60)" textLength="33.20" lengthAdjust="spacingAndGlyphs" fill="#141414" stroke="#141414" stroke-width="0.22">2027F</text>
<text x="772.02" y="405.64" font-size="10.94" text-anchor="middle" transform="rotate(0.03 772.02 405.64)" textLength="22.00" lengthAdjust="spacingAndGlyphs" fill="#2a2118" stroke="#2a2118" stroke-width="0.25">32.3</text>
<text x="772.02" y="366.59" font-size="10.94" text-anchor="middle" transform="rotate(0.03 772.02 366.59)" textLength="22.00" lengthAdjust="spacingAndGlyphs" fill="#2a2118" stroke="#2a2118" stroke-width="0.25">24.4</text>
<text x="772.02" y="320.61" font-size="10.94" text-anchor="middle" transform="rotate(0.03 772.02 320.61)" textLength="22.00" lengthAdjust="spacingAndGlyphs" fill="#2a2118" stroke="#2a2118" stroke-width="0.25">43.3</text>
<text x="772.72" y="443.60" font-size="12.16" text-anchor="end" transform="rotate(-45 772.72 443.60)" textLength="33.20" lengthAdjust="spacingAndGlyphs" fill="#141414" stroke="#141414" stroke-width="0.22">2028F</text>
<text x="805.70" y="405.64" font-size="10.94" text-anchor="middle" transform="rotate(0.03 805.70 405.64)" textLength="22.00" lengthAdjust="spacingAndGlyphs" fill="#2a2118" stroke="#2a2118" stroke-width="0.25">32.3</text>
<text x="805.70" y="366.38" font-size="10.94" text-anchor="middle" transform="rotate(0.03 805.70 366.38)" textLength="22.00" lengthAdjust="spacingAndGlyphs" fill="#2a2118" stroke="#2a2118" stroke-width="0.25">24.7</text>
<text x="805.70" y="320.41" font-size="10.94" text-anchor="middle" transform="rotate(0.03 805.70 320.41)" textLength="22.00" lengthAdjust="spacingAndGlyphs" fill="#2a2118" stroke="#2a2118" stroke-width="0.25">43.0</text>
<text x="806.40" y="443.60" font-size="12.16" text-anchor="end" transform="rotate(-45 806.40 443.60)" textLength="33.20" lengthAdjust="spacingAndGlyphs" fill="#141414" stroke="#141414" stroke-width="0.22">2029F</text>
<text x="839.38" y="405.64" font-size="10.94" text-anchor="middle" transform="rotate(0.03 839.38 405.64)" textLength="22.00" lengthAdjust="spacingAndGlyphs" fill="#2a2118" stroke="#2a2118" stroke-width="0.25">32.3</text>
<text x="839.38" y="366.18" font-size="10.94" text-anchor="middle" transform="rotate(0.03 839.38 366.18)" textLength="22.00" lengthAdjust="spacingAndGlyphs" fill="#2a2118" stroke="#2a2118" stroke-width="0.25">25.0</text>
<text x="839.38" y="320.20" font-size="10.94" text-anchor="middle" transform="rotate(0.03 839.38 320.20)" textLength="22.00" lengthAdjust="spacingAndGlyphs" fill="#2a2118" stroke="#2a2118" stroke-width="0.25">42.7</text>
<text x="840.08" y="443.60" font-size="12.16" text-anchor="end" transform="rotate(-45 840.08 443.60)" textLength="33.20" lengthAdjust="spacingAndGlyphs" fill="#141414" stroke="#141414" stroke-width="0.22">2030F</text>
<rect x="477.90" y="485.80" width="7.10" height="7.20" fill="#AB9896"/>
<text x="488.40" y="493.55" font-size="12.16" transform="rotate(0.03 488.40 493.55)" textLength="118.60" lengthAdjust="spacingAndGlyphs" fill="#141414" stroke="#141414" stroke-width="0.3">Young adults 20-39 yrs</text>
<rect x="631.20" y="485.80" width="7.10" height="7.20" fill="#FEC267"/>
<text x="642.00" y="493.55" font-size="12.16" transform="rotate(0.03 642.00 493.55)" textLength="115.40" lengthAdjust="spacingAndGlyphs" fill="#141414" stroke="#141414" stroke-width="0.3">Middle aged 40-64 yrs</text>
<rect x="781.00" y="485.80" width="7.10" height="7.20" fill="#FE9A02"/>
<text x="791.80" y="493.55" font-size="12.16" transform="rotate(0.03 791.80 493.55)" textLength="34.50" lengthAdjust="spacingAndGlyphs" fill="#141414" stroke="#141414" stroke-width="0.3">Others</text>
</g>
</svg>
</body>
</html>
